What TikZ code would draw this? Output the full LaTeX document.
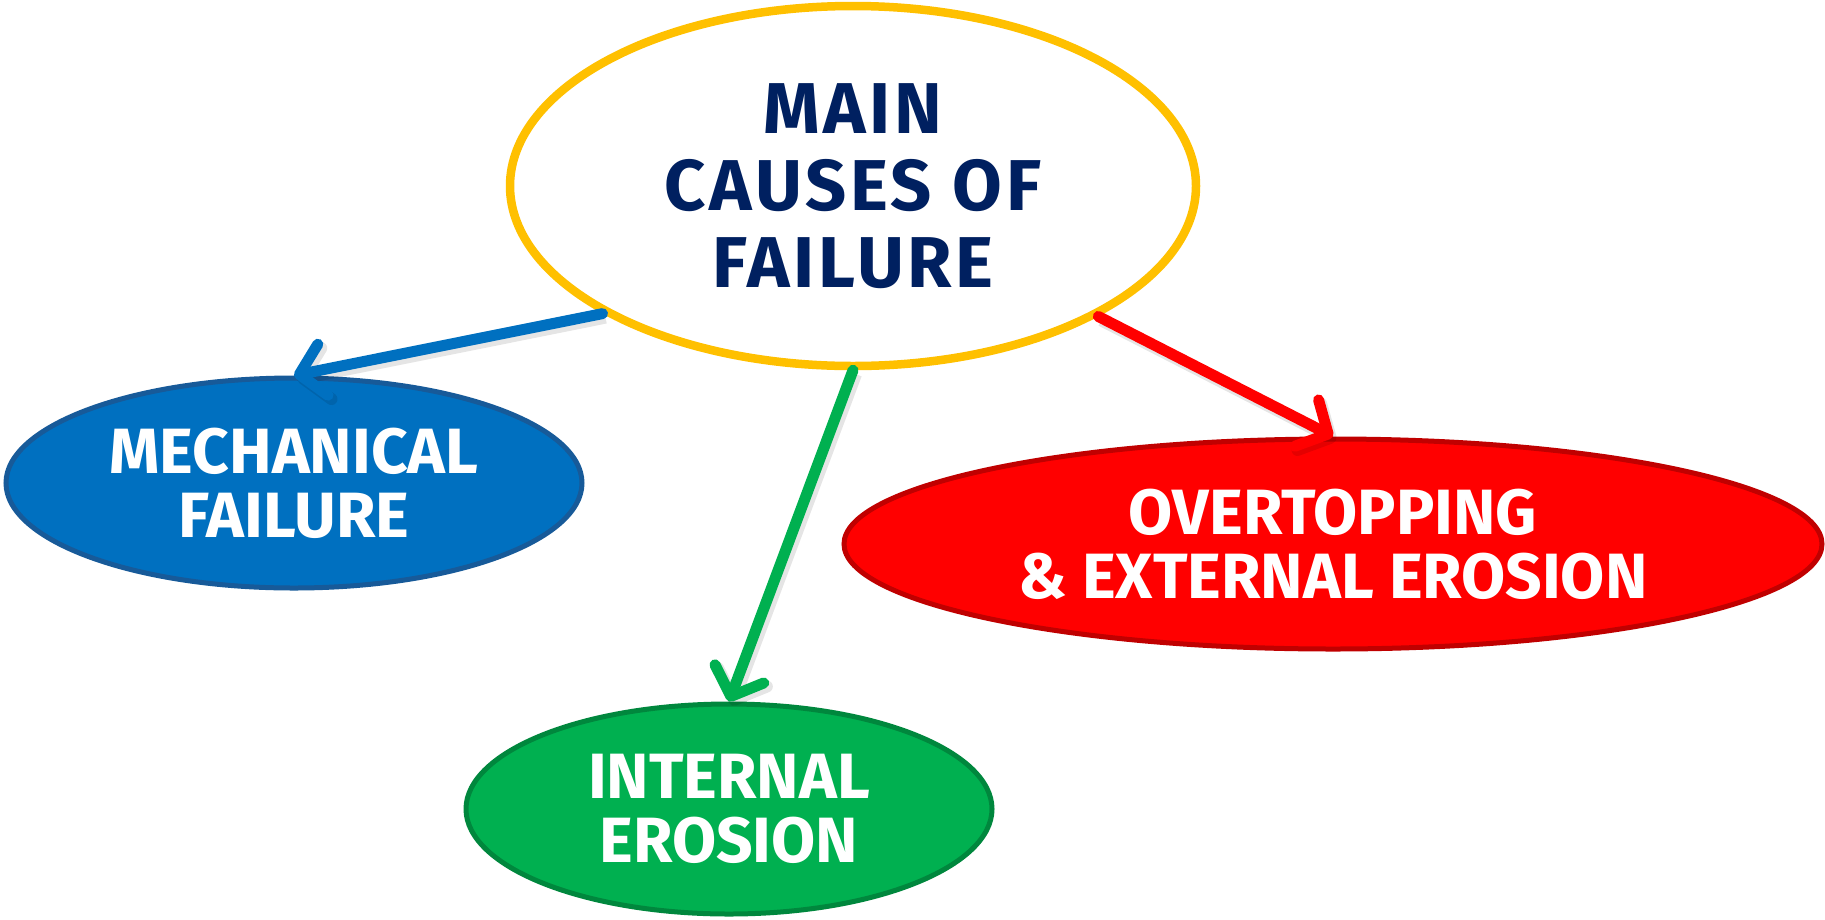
\documentclass[tikz,border=0pt]{standalone}
\usepackage{fontspec}
\setmainfont{Fira Sans}
\usetikzlibrary{arrows.meta,shapes.geometric}
\definecolor{navy}{HTML}{002060}
\definecolor{gold}{HTML}{FFC000}
\definecolor{bfill}{HTML}{0070C0}
\definecolor{bline}{HTML}{175A99}
\definecolor{rfill}{HTML}{FF0000}
\definecolor{rline}{HTML}{C00000}
\definecolor{gfill}{HTML}{00B050}
\definecolor{gline}{HTML}{00873D}
\tikzset{
  bubble/.style={ellipse, inner sep=0pt, align=center, font=\fontsize{64}{64}\selectfont\bfseries, text=white, line width=5pt},
  conn/.style={line width=11pt, line cap=round, -{Straight Barb[length=24pt,width=52pt,round]},
    preaction={draw=black, opacity=0.10, line width=12pt, transform canvas={xshift=3pt,yshift=-4pt}}}
}
\begin{document}
\begin{tikzpicture}[x=1pt,y=-1pt]
\useasboundingbox (0,0) rectangle (1825,919);
\node[ellipse, inner sep=0pt, draw=gold, line width=8.5pt, fill=white, minimum width=686pt, minimum height=360pt, align=center, text=navy, font=\fontsize{72}{77}\selectfont\bfseries\addfontfeatures{LetterSpace=5}] (main) at (853,186) {MAIN\\CAUSES OF\\FAILURE};
\node[bubble, draw=bline, fill=bfill, minimum width=576pt, minimum height=210pt] (mech) at (294,483) {MECHANICAL\\FAILURE};
\node[bubble, draw=rline, fill=rfill, minimum width=978pt, minimum height=210pt] (over) at (1333,544) {OVERTOPPING\\\& EXTERNAL EROSION};
\node[bubble, draw=gline, fill=gfill, minimum width=526pt, minimum height=210pt] (intl) at (729,809) {INTERNAL\\EROSION};
\draw[conn, draw=bfill] (main.207.7) -- (mech.north);
\draw[conn, draw=rfill] (main.332.5) -- (over.north);
\draw[conn, draw=gfill] (main.south) -- (intl.north);
\end{tikzpicture}
\end{document}
